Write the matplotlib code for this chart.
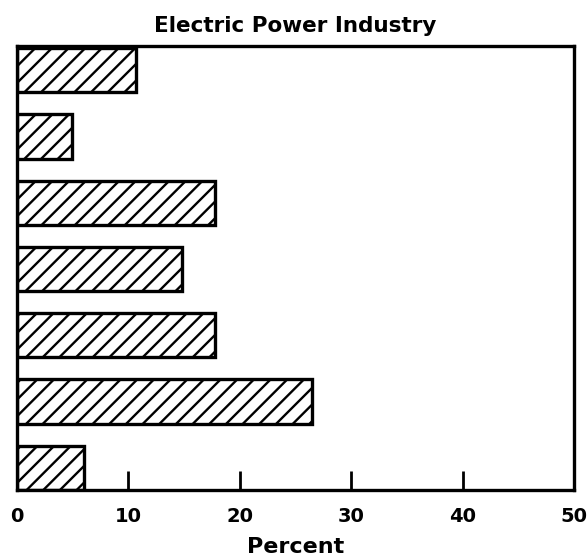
import matplotlib
matplotlib.use("Agg")
import matplotlib.pyplot as plt

# Data (top to bottom)
values = [10.7, 4.9, 17.8, 14.8, 17.8, 26.5, 6.0]
xticks = [0, 10, 20, 30, 40, 50]
xtick_labels = ["0", "10", "20", "30", "40", "50"]
title = "Electric Power Industry"
xlabel = "Percent"

plt.rcParams['font.family'] = ['DejaVu Sans']
plt.rcParams['hatch.linewidth'] = 1.7

fig = plt.figure(figsize=(5.88, 5.58), dpi=100)
ax = fig.add_axes([0.029, 0.122, 0.947, 0.796])

n = len(values)
ypos = list(range(n - 1, -1, -1))
ax.barh(ypos, values, height=0.67, color="white", edgecolor="black",
        linewidth=2.4, hatch="//")

ax.set_xlim(0, 50)
ax.set_ylim(-0.335, n - 1 + 0.37)
ax.set_yticks([])
ax.set_xticks(xticks)
ax.set_xticklabels(xtick_labels, fontsize=14, fontweight="semibold")
ax.tick_params(axis="x", direction="in", length=14, width=2, pad=12)
for s in ax.spines.values():
    s.set_linewidth(2.4)

ax.set_title(title, fontsize=15.5, fontweight="semibold", pad=10)
ax.set_xlabel(xlabel, fontsize=16, fontweight="bold", labelpad=8)

fig.savefig("out.png", dpi=100, facecolor="white")
